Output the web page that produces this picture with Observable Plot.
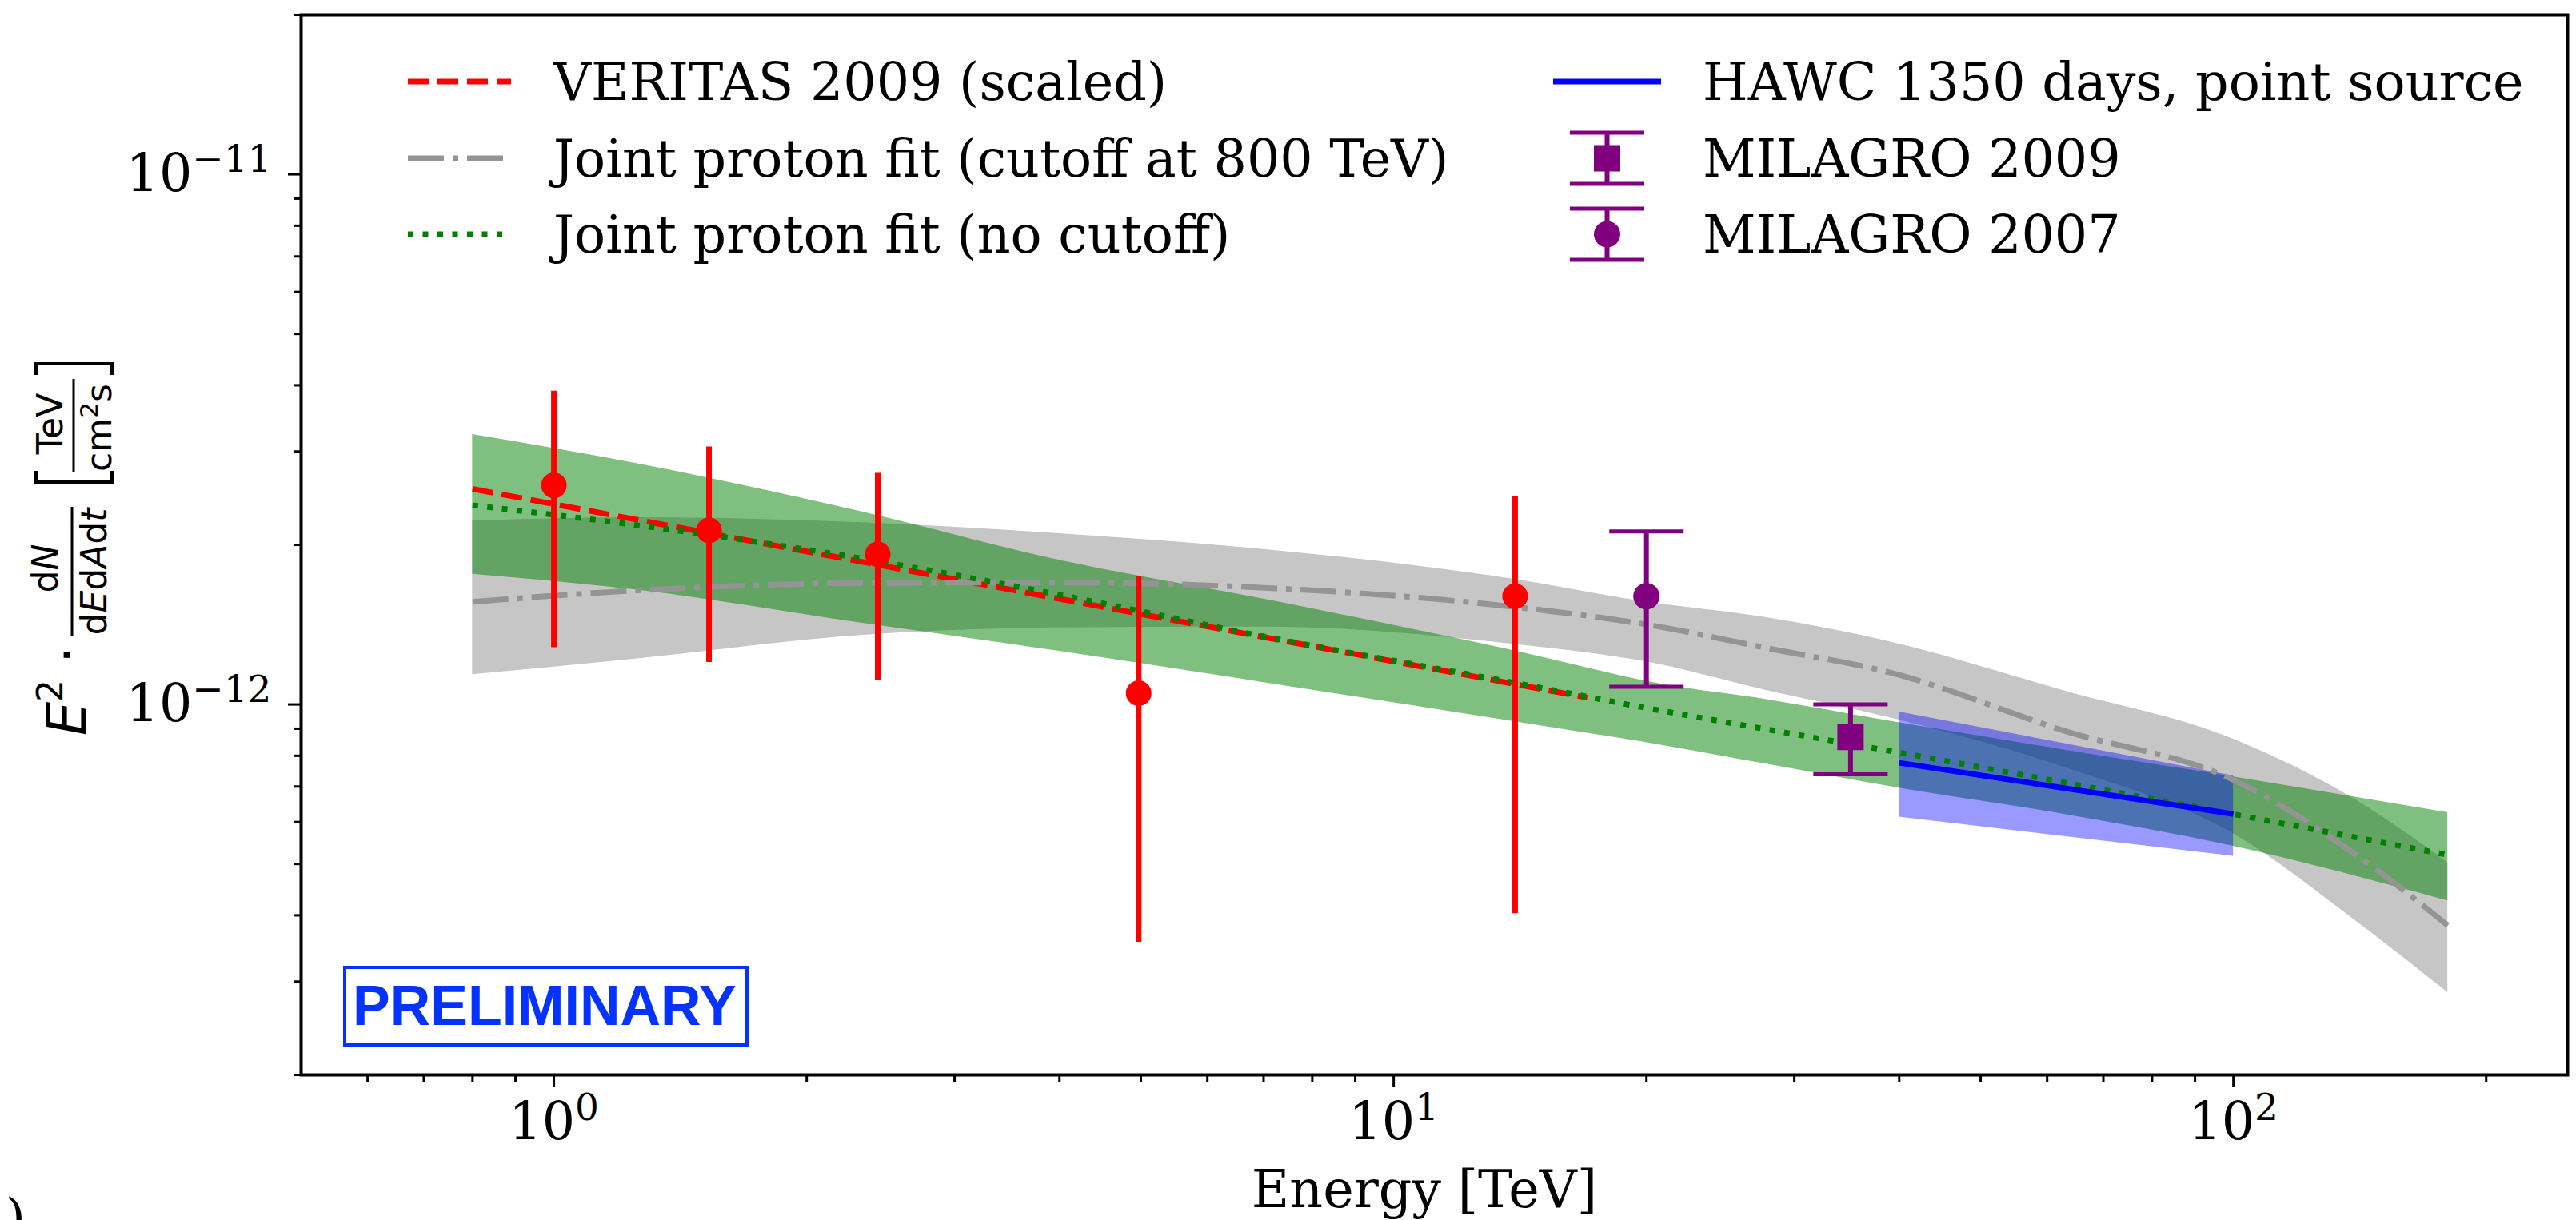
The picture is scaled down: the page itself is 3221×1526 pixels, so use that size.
<!DOCTYPE html>
<html>
<head>
<meta charset="utf-8">
<script src="https://cdn.jsdelivr.net/npm/d3@7"></script>
<script src="https://cdn.jsdelivr.net/npm/@observablehq/plot@0.6"></script>
<style>
  html, body { margin: 0; padding: 0; background: #fff; }
  svg { display: block; }
</style>
</head>
<body>
<div id="chart"></div>
<script>
// ---- Axis ticks (log scales) ----
const xMajor = [1, 10, 100];
const xMinor = [0.6, 0.7, 0.8, 0.9, 2, 3, 4, 5, 6, 7, 8, 9, 20, 30, 40, 50, 60, 70, 80, 90, 200];
const yMajor = [1e-12, 1e-11];
const yMinor = [2e-13, 3e-13, 4e-13, 5e-13, 6e-13, 7e-13, 8e-13, 9e-13,
                2e-12, 3e-12, 4e-12, 5e-12, 6e-12, 7e-12, 8e-12, 9e-12, 2e-11];

// ---- VERITAS 2009 flux points (E in TeV, E^2 dN/dE in TeV cm^-2 s^-1) ----
const veritasE  = [1.00, 1.53, 2.43, 4.97, 13.95];
const veritasF  = [2.59e-12, 2.13e-12, 1.92e-12, 1.05e-12, 1.60e-12];
const veritasLo = [1.28e-12, 1.20e-12, 1.11e-12, 3.56e-13, 4.03e-13];
const veritasHi = [3.90e-12, 3.06e-12, 2.73e-12, 1.74e-12, 2.47e-12];

// VERITAS 2009 power law (scaled)
const veritasFitE = [0.8, 17];
const veritasFitF = [2.55e-12, 1.03e-12];

// ---- MILAGRO ----
const mil09E = [35],  mil09F = [8.68e-13], mil09Lo = [7.38e-13], mil09Hi = [1.00e-12];
const mil07E = [20],  mil07F = [1.60e-12], mil07Lo = [1.08e-12], mil07Hi = [2.12e-12];

// ---- HAWC 1350 days, point source ----
const hawcE  = [40, 100];
const hawcF  = [7.76e-13, 6.21e-13];
const hawcLo = [6.13e-13, 5.17e-13];
const hawcHi = [9.68e-13, 7.33e-13];

// ---- Joint proton fit (no cutoff): line and band ----
const noCutLineE = [0.8, 1.25, 2.35, 4.0, 7.0, 14, 21, 28, 39, 180];
const noCutLineF = [2.375e-12, 2.18e-12, 1.88e-12, 1.61e-12, 1.344e-12, 1.097e-12, 9.71e-13, 8.96e-13, 8.17e-13, 5.2e-13];
const noCutBandE  = [0.8, 1.25, 2.35, 4.0, 7.0, 14, 21, 28, 39, 63, 100, 180];
const noCutBandHi = [3.23e-12, 2.85e-12, 2.30e-12, 1.87e-12, 1.58e-12, 1.26e-12, 1.09e-12, 1.02e-12, 9.3e-13, 8.2e-13, 7.3e-13, 6.25e-13];
const noCutBandLo = [1.76e-12, 1.645e-12, 1.42e-12, 1.26e-12, 1.10e-12, 9.27e-13, 8.36e-13, 7.7e-13, 7.0e-13, 6.2e-13, 5.4e-13, 4.26e-13];

// ---- Joint proton fit (cutoff at 800 TeV): line and band ----
const cutE  = [0.8, 1.25, 2.35, 4.0, 7.0, 14, 20, 28, 39, 63, 100, 140, 180];
const cutF  = [1.562e-12, 1.64e-12, 1.694e-12, 1.698e-12, 1.66e-12, 1.526e-12, 1.415e-12, 1.275e-12, 1.149e-12, 8.91e-13, 7.2e-13, 5.2e-13, 3.83e-13];
const cutHi = [2.22e-12, 2.25e-12, 2.20e-12, 2.10e-12, 1.96e-12, 1.72e-12, 1.56e-12, 1.456e-12, 1.313e-12, 1.06e-12, 8.6e-13, 6.6e-13, 5.03e-13];
const cutLo = [1.138e-12, 1.218e-12, 1.352e-12, 1.395e-12, 1.40e-12, 1.297e-12, 1.203e-12, 1.06e-12, 9.44e-13, 7.6e-13, 5.7e-13, 3.9e-13, 2.86e-13];

// ---- Tables built from the arrays ----
const zip = (E, cols) => E.map((e, i) => {
  const o = {E: e};
  for (const k in cols) o[k] = cols[k][i];
  return o;
});
const veritas    = zip(veritasE, {F: veritasF, lo: veritasLo, hi: veritasHi});
const veritasFit = zip(veritasFitE, {F: veritasFitF});
const mil09      = zip(mil09E, {F: mil09F, lo: mil09Lo, hi: mil09Hi});
const mil07      = zip(mil07E, {F: mil07F, lo: mil07Lo, hi: mil07Hi});
const milagro    = mil09.concat(mil07);
const hawc       = zip(hawcE, {F: hawcF, lo: hawcLo, hi: hawcHi});
const noCutLine  = zip(noCutLineE, {F: noCutLineF});
const noCutBand  = zip(noCutBandE, {lo: noCutBandLo, hi: noCutBandHi});
const cut        = zip(cutE, {F: cutF, lo: cutLo, hi: cutHi});

// Horizontal error-bar cap as a custom symbol (half-width = r)
const capSymbol = {
  draw(ctx, size) {
    const w = Math.sqrt(size / Math.PI);
    ctx.moveTo(-w, 0);
    ctx.lineTo(w, 0);
  }
};

const pow10 = d => "10^" + String(Math.round(Math.log10(d))).replace("-", "\u2212");

const FONT = 65;
const DASHED = "26,11", DASHDOT = "45,11,7,11", DOTTED = "7,11.5";
const GREY_LINE = "#949494";

const plot = Plot.plot({
  width: 3221,
  height: 1526,
  marginLeft: 376,
  marginRight: 11,
  marginTop: 18,
  marginBottom: 182,
  style: {fontFamily: "DejaVu Serif", fontSize: FONT + "px", background: "#fff", color: "#000"},
  x: {type: "log", domain: [0.5, 250]},
  y: {type: "log", domain: [2e-13, 2e-11]},
  marks: [
    // uncertainty bands
    Plot.areaY(cut, {x: "E", y1: "lo", y2: "hi", fill: "#c6c6c6", curve: "monotone-x"}),
    Plot.areaY(noCutBand, {x: "E", y1: "lo", y2: "hi", fill: "green", fillOpacity: 0.5, curve: "monotone-x"}),
    Plot.areaY(hawc, {x: "E", y1: "lo", y2: "hi", fill: "blue", fillOpacity: 0.4}),
    // model curves
    Plot.line(veritasFit, {x: "E", y: "F", stroke: "red", strokeWidth: 7, strokeDasharray: DASHED, strokeLinecap: "butt"}),
    Plot.line(cut, {x: "E", y: "F", stroke: GREY_LINE, strokeWidth: 7, strokeDasharray: DASHDOT, strokeLinecap: "butt", curve: "monotone-x"}),
    Plot.line(noCutLine, {x: "E", y: "F", stroke: "green", strokeWidth: 7, strokeDasharray: DOTTED, strokeLinecap: "butt", curve: "monotone-x"}),
    Plot.line(hawc, {x: "E", y: "F", stroke: "blue", strokeWidth: 7, strokeLinecap: "butt"}),
    // VERITAS points
    Plot.ruleX(veritas, {x: "E", y1: "lo", y2: "hi", stroke: "red", strokeWidth: 7}),
    Plot.dot(veritas, {x: "E", y: "F", r: 16, fill: "red"}),
    // MILAGRO points
    Plot.ruleX(milagro, {x: "E", y1: "lo", y2: "hi", stroke: "purple", strokeWidth: 6}),
    Plot.dot(milagro, {x: "E", y: "hi", symbol: capSymbol, r: 46.5, stroke: "purple", strokeWidth: 5, fill: "none"}),
    Plot.dot(milagro, {x: "E", y: "lo", symbol: capSymbol, r: 46.5, stroke: "purple", strokeWidth: 5, fill: "none"}),
    Plot.dot(mil09, {x: "E", y: "F", symbol: "square", r: 18.6, fill: "purple"}),
    Plot.dot(mil07, {x: "E", y: "F", r: 16.5, fill: "purple"}),
    // axes
    Plot.axisX({ticks: xMajor, tickSize: 16, tickPadding: 18, tickFormat: pow10, strokeWidth: 3, label: null}),
    Plot.axisX({ticks: xMinor, tickSize: 9, tickFormat: () => "", strokeWidth: 3, label: null}),
    Plot.axisY({ticks: yMajor, tickSize: 16, tickPadding: 21, tickFormat: pow10, strokeWidth: 3, label: null}),
    Plot.axisY({ticks: yMinor, tickSize: 9, tickFormat: () => "", strokeWidth: 3, label: null}),
    Plot.frame({stroke: "#000", strokeWidth: 4})
  ]
});

document.getElementById("chart").appendChild(plot);

const NS = "http://www.w3.org/2000/svg";

// Power-of-ten tick labels with raised exponents
plot.querySelectorAll('g[aria-label$="tick label"] text').forEach(t => {
  const m = /^10\^(.+)$/.exec(t.textContent);
  if (!m) return;
  t.textContent = "";
  const base = document.createElementNS(NS, "tspan");
  base.textContent = "10";
  const exp = document.createElementNS(NS, "tspan");
  exp.textContent = m[1];
  exp.setAttribute("font-size", "47");
  exp.setAttribute("dy", "-24");
  t.append(base, exp);
});

const svg = d3.select(plot);

// x-axis title
svg.append("text")
  .attr("x", 1781).attr("y", 1510)
  .attr("text-anchor", "middle")
  .attr("font-family", "DejaVu Serif").attr("font-size", FONT)
  .text("Energy [TeV]");

// y-axis title: E² · dN/(dE dA dt) [TeV/(cm² s)], reading bottom to top
const yl = svg.append("g")
  .attr("transform", "translate(107,920) rotate(-90)")
  .attr("font-family", "DejaVu Sans")
  .attr("text-anchor", "start")
  .attr("fill", "#000");
yl.append("text").attr("x", 0).attr("y", 0).attr("font-size", 67).attr("font-style", "italic").text("E");
yl.append("text").attr("x", 42).attr("y", -29).attr("font-size", 44).text("2");
yl.append("text").attr("x", 90).attr("y", 0).attr("font-size", 67).text("\u00b7");
// dN / dE dA dt
const num = yl.append("text").attr("x", 209).attr("y", -35).attr("font-size", 44).attr("text-anchor", "middle");
num.append("tspan").text("d");
num.append("tspan").attr("font-style", "italic").text("N");
yl.append("line").attr("x1", 124).attr("x2", 286).attr("y1", -17).attr("y2", -17).attr("stroke", "#000").attr("stroke-width", 3);
const den = yl.append("text").attr("x", 205).attr("y", 26).attr("font-size", 44).attr("text-anchor", "middle");
den.append("tspan").text("d");
den.append("tspan").attr("font-style", "italic").text("E");
den.append("tspan").text("d");
den.append("tspan").attr("font-style", "italic").text("A");
den.append("tspan").text("d");
den.append("tspan").attr("font-style", "italic").text("t");
// [ TeV / cm² s ]
yl.append("path").attr("d", "M331,-62 H317 V33 H331").attr("fill", "none").attr("stroke", "#000").attr("stroke-width", 4);
yl.append("path").attr("d", "M451,-62 H465 V33 H451").attr("fill", "none").attr("stroke", "#000").attr("stroke-width", 4);
yl.append("text").attr("x", 390).attr("y", -29).attr("font-size", 44).attr("text-anchor", "middle").text("TeV");
yl.append("line").attr("x1", 329).attr("x2", 446).attr("y1", -15).attr("y2", -15).attr("stroke", "#000").attr("stroke-width", 3);
const unitDen = yl.append("text").attr("x", 385).attr("y", 32).attr("font-size", 44).attr("text-anchor", "middle");
unitDen.append("tspan").text("cm");
unitDen.append("tspan").attr("dy", -17).attr("font-size", 31).text("2");
unitDen.append("tspan").attr("dy", 17).text("s");

// Legend
const leg = svg.append("g")
  .attr("font-family", "DejaVu Serif").attr("font-size", FONT)
  .attr("text-anchor", "start").attr("fill", "#000");
const rows = [102, 198, 293];
const leftItems = [
  {label: "VERITAS 2009 (scaled)", stroke: "red", dash: DASHED},
  {label: "Joint proton fit (cutoff at 800 TeV)", stroke: GREY_LINE, dash: DASHDOT},
  {label: "Joint proton fit (no cutoff)", stroke: "green", dash: DOTTED}
];
leftItems.forEach((d, i) => {
  leg.append("line").attr("x1", 510).attr("x2", 639).attr("y1", rows[i]).attr("y2", rows[i])
    .attr("stroke", d.stroke).attr("stroke-width", 7).attr("stroke-dasharray", d.dash);
  leg.append("text").attr("x", 692).attr("y", rows[i] + 23).text(d.label);
});
// HAWC
leg.append("line").attr("x1", 1942).attr("x2", 2077).attr("y1", rows[0]).attr("y2", rows[0])
  .attr("stroke", "blue").attr("stroke-width", 7);
leg.append("text").attr("x", 2129).attr("y", rows[0] + 23).text("HAWC 1350 days, point source");
// MILAGRO entries with error-bar handles
[{label: "MILAGRO 2009", marker: "square", row: rows[1]},
 {label: "MILAGRO 2007", marker: "circle", row: rows[2]}].forEach(d => {
  const cx = 2009.5, cy = d.row;
  leg.append("line").attr("x1", cx).attr("x2", cx).attr("y1", cy - 32).attr("y2", cy + 32)
    .attr("stroke", "purple").attr("stroke-width", 6);
  [cy - 32, cy + 32].forEach(y => leg.append("line").attr("x1", cx - 46.5).attr("x2", cx + 46.5)
    .attr("y1", y).attr("y2", y).attr("stroke", "purple").attr("stroke-width", 5));
  if (d.marker === "square") {
    leg.append("rect").attr("x", cx - 16.5).attr("y", cy - 16.5).attr("width", 33).attr("height", 33).attr("fill", "purple");
  } else {
    leg.append("circle").attr("cx", cx).attr("cy", cy).attr("r", 16.5).attr("fill", "purple");
  }
  leg.append("text").attr("x", 2129).attr("y", cy + 23).text(d.label);
});

// PRELIMINARY stamp
svg.append("rect").attr("x", 431).attr("y", 1210).attr("width", 503).attr("height", 97)
  .attr("fill", "none").attr("stroke", "#0433ff").attr("stroke-width", 4);
svg.append("text").attr("x", 441).attr("y", 1282).attr("text-anchor", "start")
  .attr("font-family", "Liberation Sans").attr("font-weight", "bold").attr("font-size", 70)
  .attr("fill", "#0433ff").text("PRELIMINARY");

// panel tag at the lower-left corner
svg.append("text").attr("x", 32).attr("y", 1546).attr("text-anchor", "end")
  .attr("font-family", "DejaVu Serif").attr("font-size", FONT).text(")");
</script>
</body>
</html>
